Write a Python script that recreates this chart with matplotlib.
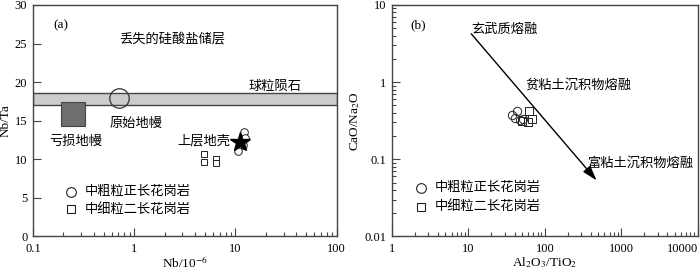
import matplotlib
matplotlib.use("Agg")
import matplotlib.pyplot as plt
from matplotlib.patches import Rectangle
from matplotlib.ticker import LogLocator, FixedLocator, NullFormatter

plt.rcParams["font.family"] = ["Liberation Serif", "Noto Sans CJK SC"]
plt.rcParams["mathtext.fontset"] = "stix"

cn = ["Noto Sans CJK SC", "Liberation Serif"]
spine_col = "#444444"

# (a) Nb vs Nb/Ta
chondrite_band = (17.0, 18.6)
depleted_box_nb = (0.19, 0.33)
depleted_box_ratio = (14.3, 17.4)
primitive_mantle = (0.71, 18.0)
upper_crust = (11.0, 12.2)
a_coarse_nb = [12.2, 12.3, 12.0, 10.6, 11.0]
a_coarse_ratio = [13.5, 12.8, 11.9, 11.1, 12.0]
a_fine_nb = [4.9, 4.9, 6.5, 6.5]
a_fine_ratio = [10.7, 9.6, 10.0, 9.5]

# (b) Al2O3/TiO2 vs CaO/Na2O
trend_start = (10.3, 4.5)
trend_end = (500, 0.05)
b_coarse_x = [37, 43, 40, 47, 51]
b_coarse_y = [0.37, 0.42, 0.34, 0.32, 0.33]
b_fine_x = [62, 68, 50, 60]
b_fine_y = [0.42, 0.33, 0.31, 0.30]

legend_labels = ["中粗粒正长花岗岩", "中细粒二长花岗岩"]

fig = plt.figure(figsize=(7, 2.74), dpi=100)
ax1 = fig.add_axes([0.047, 0.137, 0.434, 0.845])
ax2 = fig.add_axes([0.560, 0.137, 0.437, 0.845])

for ax in (ax1, ax2):
    for s in ax.spines.values():
        s.set_color(spine_col)
        s.set_linewidth(1.0)
    ax.tick_params(which="both", direction="in", top=False, right=False,
                   labelsize=9, colors=spine_col, labelcolor="black")
    ax.tick_params(axis="x", pad=5)
    ax.tick_params(axis="y", pad=4)
    ax.tick_params(which="major", length=6, width=0.8)
    ax.tick_params(which="minor", length=3, width=0.8)

# ---- panel a
ax1.set_xscale("log")
ax1.set_xlim(0.1, 100)
ax1.set_ylim(0, 30)
ax1.set_yticks([0, 5, 10, 15, 20, 25, 30])
ax1.set_xticks([0.1, 1, 10, 100])
ax1.set_xticklabels(["0.1", "1", "10", "100"])
ax1.xaxis.set_minor_locator(LogLocator(base=10, subs=range(2, 10)))
ax1.xaxis.set_minor_formatter(NullFormatter())

ax1.axhspan(*chondrite_band, facecolor="#cccccc", edgecolor=spine_col, lw=1.0)
ax1.add_patch(Rectangle((depleted_box_nb[0], depleted_box_ratio[0]),
                        depleted_box_nb[1] - depleted_box_nb[0],
                        depleted_box_ratio[1] - depleted_box_ratio[0],
                        facecolor="#6e6e6e", edgecolor="#444444", lw=0.8))
ax1.plot(*primitive_mantle, "o", ms=14, mfc="none", mec="#333333", mew=0.9)
ax1.plot(a_coarse_nb, a_coarse_ratio, "o", ms=5.5, mfc="white", mec="#222222", mew=0.7, ls="none")
ax1.plot(a_fine_nb, a_fine_ratio, "s", ms=5, mfc="white", mec="#222222", mew=0.7, ls="none")
ax1.plot(*upper_crust, "*", ms=15, color="black")

ax1.text(0.158, 27.4, "(a)", fontsize=9.5, va="center")
ax1.text(0.72, 25.5, "丢失的硅酸盐储层", family=cn, fontsize=9.5, va="center")
ax1.text(13.5, 19.5, "球粒陨石", family=cn, fontsize=9.5, va="center")
ax1.text(0.575, 14.6, "原始地幔", family=cn, fontsize=9.5, va="center")
ax1.text(0.145, 12.3, "亏损地幔", family=cn, fontsize=9.5, va="center")
ax1.text(2.7, 12.4, "上层地壳", family=cn, fontsize=9.5, va="center")

ax1.set_ylabel("Nb/Ta", fontsize=9.5, labelpad=2)
ax1.set_xlabel("Nb/10$^{-6}$", fontsize=9.5, labelpad=0)

# ---- panel b
ax2.set_xscale("log")
ax2.set_yscale("log")
ax2.set_xlim(1, 10000)
ax2.set_ylim(0.01, 10)
ax2.xaxis.set_major_locator(FixedLocator([1, 10, 100, 1000, 10000]))
ax2.set_xticklabels(["1", "10", "100", "1000", "10000"])
ax2.get_xticklabels()[-1].set_horizontalalignment("right")
ax2.yaxis.set_major_locator(FixedLocator([0.01, 0.1, 1, 10]))
ax2.set_yticklabels(["0.01", "0.1", "1", "10"])
for axis in (ax2.xaxis, ax2.yaxis):
    axis.set_minor_locator(LogLocator(base=10, subs=range(2, 10)))
    axis.set_minor_formatter(NullFormatter())

ax2.annotate("", xy=trend_end, xytext=trend_start,
             arrowprops=dict(arrowstyle="-|>,head_length=0.9,head_width=0.28",
                             color="black", lw=1.0))
ax2.plot(b_coarse_x, b_coarse_y, "o", ms=6, mfc="none", mec="#222222", mew=0.7, ls="none")
ax2.plot(b_fine_x, b_fine_y, "s", ms=5.5, mfc="none", mec="#222222", mew=0.7, ls="none")

ax2.text(1.72, 5.5, "(b)", fontsize=9.5, va="center")
ax2.text(11, 4.8, "玄武质熔融", family=cn, fontsize=9.5, va="center")
ax2.text(55, 0.92, "贫粘土沉积物熔融", family=cn, fontsize=9.5, va="center")
ax2.text(360, 0.088, "富粘土沉积物熔融", family=cn, fontsize=9.5, va="center")

ax2.set_ylabel("CaO/Na$_2$O", fontsize=9.5, labelpad=2)
ax2.set_xlabel("Al$_2$O$_3$/TiO$_2$", fontsize=9.5, labelpad=0)

# legends as text rows
legend_pos = {
    "a": (ax1, 0.237, 0.326, [5.8, 3.5]),
    "b": (ax2, 2.39, 3.65, [0.043, 0.0244]),
}
for ax, xm, xt, ys in legend_pos.values():
    for yy, mk, lab in zip(ys, ["o", "s"], legend_labels):
        ax.plot(xm, yy, mk, ms=7 if mk == "o" else 6, mfc="none", mec="#222222", mew=0.8)
        ax.text(xt, yy, lab, family=cn, fontsize=9.5, va="center")

fig.savefig("out.png", dpi=100)
